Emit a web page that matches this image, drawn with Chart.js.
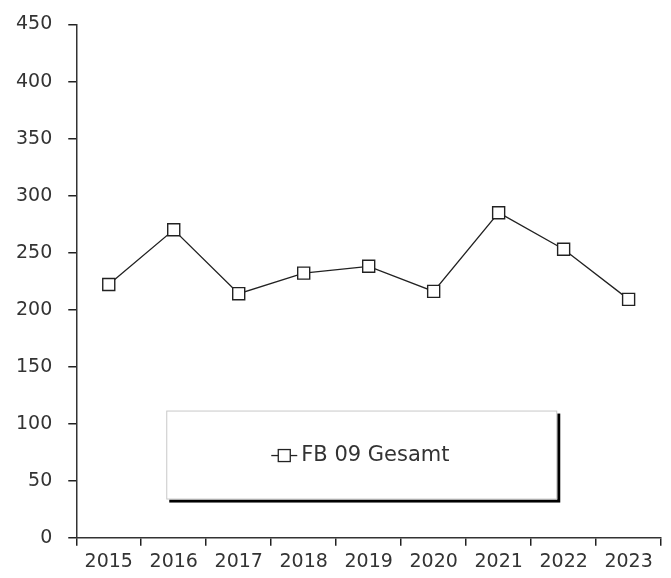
<!DOCTYPE html>
<html lang="de">
<head>
<meta charset="UTF-8">
<title>FB 09 Gesamt</title>
<script src="https://cdn.jsdelivr.net/npm/chart.js"></script>
<style>
  html, body { margin: 0; padding: 0; background: #fff; }
  #wrap { width: 671px; height: 578px; }
</style>
</head>
<body>
<div id="wrap"><canvas id="grafico" width="671" height="578"></canvas></div>
<script>
// Daten
const jahre = ['2015', '2016', '2017', '2018', '2019', '2020', '2021', '2022', '2023'];
const gesamt = [222, 270, 214, 232, 238, 216, 285, 253, 209];
const serienName = 'FB 09 Gesamt';
const yMax = 450;
const yStep = 50;

const schrift = "'DejaVu Sans', sans-serif";
const textFarbe = '#333';
const achsenFarbe = '#333';

// Legende als Kasten mit Schatten innerhalb der Zeichenfläche
const legendeImFeld = {
  id: 'legendeImFeld',
  afterDatasetsDraw(chart) {
    const { ctx, chartArea } = chart;
    const ds = chart.data.datasets[0];
    const x = chartArea.left + 90, y = chartArea.top + 386;
    const w = 391, h = 89;
    ctx.save();
    // Schatten
    ctx.fillStyle = '#000';
    ctx.fillRect(x + 3, y + 3, w, h);
    ctx.fillStyle = '#fff';
    ctx.fillRect(x, y, w, h);
    ctx.strokeStyle = '#c8c8c8';
    ctx.lineWidth = 1;
    ctx.strokeRect(x + 0.5, y + 0.5, w - 1, h - 1);
    // Symbol
    const cy = y + 45, sx = x + 105;
    ctx.strokeStyle = '#222';
    ctx.lineWidth = 1.3;
    ctx.beginPath();
    ctx.moveTo(sx, cy);
    ctx.lineTo(sx + 26, cy);
    ctx.stroke();
    ctx.fillStyle = '#fff';
    ctx.fillRect(sx + 7, cy - 6, 12, 12);
    ctx.strokeRect(sx + 7, cy - 6, 12, 12);
    // Text
    ctx.fillStyle = textFarbe;
    ctx.font = '21px ' + schrift;
    ctx.textBaseline = 'middle';
    ctx.textAlign = 'left';
    ctx.fillText(ds.label, sx + 30, cy);
    ctx.restore();
  }
};

const grafico = new Chart(document.getElementById('grafico').getContext('2d'), {
  type: 'line',
  data: {
    labels: jahre,
    datasets: [{
      label: serienName,
      data: gesamt,
      borderColor: '#222',
      borderWidth: 1.3,
      pointStyle: 'rect',
      pointRadius: 8.5,
      pointBackgroundColor: '#fff',
      pointBorderColor: '#222',
      pointBorderWidth: 1.4,
      tension: 0
    }]
  },
  options: {
    responsive: false,
    animation: false,
    layout: { padding: { left: 0, top: 5, right: 1, bottom: -1 } },
    plugins: {
      legend: { display: false },
      tooltip: { enabled: false }
    },
    scales: {
      x: {
        offset: true,
        grid: {
          display: true,
          offset: true,
          drawOnChartArea: false,
          drawTicks: true,
          tickLength: 8,
          color: '#222',
          lineWidth: 1.5
        },
        border: { color: achsenFarbe, width: 1.5 },
        ticks: {
          color: textFarbe,
          font: { family: schrift, size: 19, lineHeight: 0.7 },
          padding: 10,
          maxRotation: 0,
          autoSkip: false
        }
      },
      y: {
        min: 0,
        max: yMax,
        grid: {
          drawOnChartArea: false,
          tickLength: 8,
          color: '#222',
          lineWidth: 1.5
        },
        border: { color: achsenFarbe, width: 1.5 },
        ticks: {
          stepSize: yStep,
          color: textFarbe,
          font: { family: schrift, size: 19, lineHeight: 0.9 },
          padding: 16
        }
      }
    }
  },
  plugins: [legendeImFeld]
});
</script>
</body>
</html>
